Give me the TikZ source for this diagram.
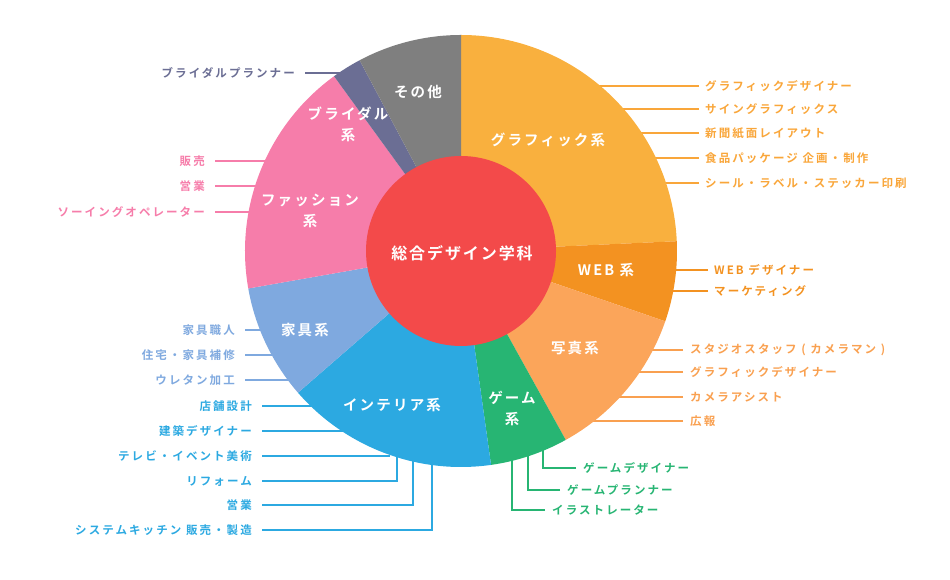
\documentclass[tikz,border=0pt]{standalone}
\usepackage{fontspec}
\setmainfont{Noto Sans CJK JP}[BoldFont={Noto Sans CJK JP Bold}]
\definecolor{cGr}{HTML}{F9B03E}
\definecolor{cGrT}{HTML}{F9A63A}
\definecolor{cWeb}{HTML}{F39221}
\definecolor{cPh}{HTML}{FBA55A}
\definecolor{cPhT}{HTML}{F9A050}
\definecolor{cGa}{HTML}{27B573}
\definecolor{cIn}{HTML}{2CA9E1}
\definecolor{cFu}{HTML}{7FA9DF}
\definecolor{cFa}{HTML}{F67DAA}
\definecolor{cBr}{HTML}{6B6E94}
\definecolor{cOt}{HTML}{7F7F7F}
\definecolor{cCe}{HTML}{F34A4A}
\tikzset{
 lbl/.style={font=\fontsize{11.5}{13}\selectfont\bfseries\addfontfeature{LetterSpace=18}, inner sep=0pt},
 seg/.style={font=\fontsize{14.5}{21}\selectfont\bfseries\addfontfeature{LetterSpace=15}, text=white, align=center, inner sep=0pt},
 ln/.style={line width=1.6pt}
}
\newcommand{\sector}[3]{\fill[#1] (461,329) -- ++(#2:216) arc (#2:#3:216) -- cycle;}
\begin{document}
\begin{tikzpicture}[x=1pt,y=1pt]
\useasboundingbox (0,0) rectangle (950,580);
% ---- right labels: graphic
\foreach \t/\y [count=\i] in {グラフィックデザイナー/494, サイングラフィックス/471, 新聞紙面レイアウト/447, 食品パッケージ 企画・制作/422, シール・ラベル・ステッカー印刷/397}{
  \node[lbl,text=cGrT,anchor=west] (g\i) at (705,\y) {\t};
  \draw[ln,cGrT] (g\i.west) ++(-6,0) coordinate (gc\i) (gc\i) -- (560,\y);
}
\foreach \t/\y [count=\i] in {WEB デザイナー/310, マーケティング/289}{
  \node[lbl,text=cWeb,anchor=west] (w\i) at (714,\y) {\t};
  \draw[ln,cWeb] (w\i.west) ++(-6,0) coordinate (wc\i) (wc\i) -- (600,\y);
}
\foreach \t/\y [count=\i] in {スタジオスタッフ ( カメラマン )/230, グラフィックデザイナー/208, カメラアシスト/183, 広報/159}{
  \node[lbl,text=cPhT,anchor=west] (p\i) at (690,\y) {\t};
  \draw[ln,cPhT] (p\i.west) ++(-7,0) coordinate (pc\i) (pc\i) -- (580,\y);
}
% game
\node[lbl,text=cGa,anchor=west] (ga1) at (583,112) {ゲームデザイナー};
\node[lbl,text=cGa,anchor=west] (ga2) at (567,90) {ゲームプランナー};
\node[lbl,text=cGa,anchor=west] (ga3) at (552,70) {イラストレーター};
\draw[ln,cGa] (ga1.west) ++(-7,0) -| (543,180);
\draw[ln,cGa] (ga2.west) ++(-7,0) -| (528,180);
\draw[ln,cGa] (ga3.west) ++(-7,0) -| (512,180);
% interior
\foreach \t/\y/\x [count=\i] in {店舗設計/174/330, 建築デザイナー/149/350, テレビ・イベント美術/124/390}{
  \node[lbl,text=cIn,anchor=east] (in\i) at (252,\y) {\t};
  \draw[ln,cIn] (in\i.east) ++(10,0) -- (\x,\y);
}
\node[lbl,text=cIn,anchor=east] (in4) at (252,99) {リフォーム};
\node[lbl,text=cIn,anchor=east] (in5) at (252,75) {営業};
\node[lbl,text=cIn,anchor=east] (in6) at (252,50) {システムキッチン 販売・製造};
\draw[ln,cIn] (in4.east) ++(10,0) -| (397,180);
\draw[ln,cIn] (in5.east) ++(10,0) -| (413,180);
\draw[ln,cIn] (in6.east) ++(10,0) -| (432,180);
% furniture
\foreach \t/\y [count=\i] in {家具職人/250, 住宅・家具補修/225, ウレタン加工/200}{
  \node[lbl,text=cFu,anchor=east] (f\i) at (235,\y) {\t};
  \draw[ln,cFu] (f\i.east) ++(10,0) -- (300,\y);
}
% fashion
\foreach \t/\y [count=\i] in {販売/419, 営業/394, ソーイングオペレーター/368}{
  \node[lbl,text=cFa,anchor=east] (fa\i) at (205,\y) {\t};
  \draw[ln,cFa] (fa\i.east) ++(10,0) -- (280,\y);
}
% bridal
\node[lbl,text=cBr,anchor=east] (br1) at (295,507) {ブライダルプランナー};
\draw[ln,cBr] (br1.east) ++(10,0) -- (360,507);
% ---- pie
\sector{cGr}{2.6}{90}
\sector{cWeb}{-19}{2.6}
\sector{cPh}{-61}{-19}
\sector{cGa}{-82}{-61}
\sector{cIn}{-139}{-82}
\sector{cFu}{-170}{-139}
\sector{cFa}{126}{190}
\sector{cBr}{118}{126}
\sector{cOt}{90}{118}
\fill[cCe] (461,329) circle (95);
\node[seg,font=\fontsize{16}{20}\selectfont\bfseries\addfontfeature{LetterSpace=12}] (ctr) at (462,327) {総合デザイン学科};
\node[seg] (sg) at (548,440) {グラフィック系};
\node[seg] (sw) at (606,310) {WEB 系};
\node[seg] (sp) at (575,232) {写真系};
\node[seg] (sga) at (512,172) {ゲーム\\系};
\node[seg] (si) at (392,175) {インテリア系};
\node[seg] (sf) at (305,250) {家具系};
\node[seg] (sfa) at (310,369) {ファッション\\系};
\node[seg] (sb) at (348,456) {ブライダル\\系};
\node[seg] (so) at (418,488) {その他};
\end{tikzpicture}
\end{document}
